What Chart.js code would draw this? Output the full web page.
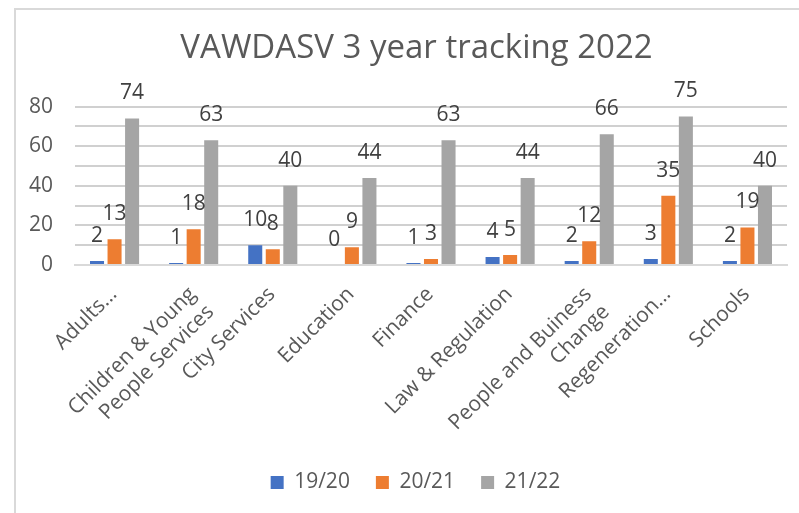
<!DOCTYPE html>
<html>
<head>
<meta charset="utf-8">
<script src="https://cdn.jsdelivr.net/npm/chart.js@4.4.1/dist/chart.umd.min.js"></script>
<style>
html,body{margin:0;padding:0;background:#fff;}
#wrap{width:799px;height:513px;position:relative;}
</style>
</head>
<body>
<div id="wrap"><canvas id="c" width="799" height="513"></canvas></div>
<script>
const categories = [
  "Adults…",
  ["Children & Young", "People Services"],
  "City Services",
  "Education",
  "Finance",
  "Law & Regulation",
  ["People and Buiness", "Change"],
  "Regeneration…",
  "Schools"
];
const seriesNames = ["19/20", "20/21", "21/22"];
const values1920 = [2, 1, 10, 0, 1, 4, 2, 3, 2];
const values2021 = [13, 18, 8, 9, 3, 5, 12, 35, 19];
const values2122 = [74, 63, 40, 44, 63, 44, 66, 75, 40];
const colors = ["#4472C4", "#ED7D31", "#A5A5A5"];
const yMin = 0, yMax = 80, yStep = 10, yLabelEvery = 20;

const FONT = "'Open Sans', 'Liberation Sans', sans-serif";

const borderPlugin = {
  id: 'border',
  beforeDraw(chart) {
    const ctx = chart.ctx;
    ctx.save();
    ctx.strokeStyle = '#d9d9d9';
    ctx.lineWidth = 2;
    ctx.beginPath();
    ctx.moveTo(15, 513);
    ctx.lineTo(15, 9);
    ctx.lineTo(799, 9);
    ctx.stroke();
    ctx.restore();
  }
};

// nudge title and legend horizontally to sit where the reference has them
const shiftPlugin = {
  id: 'shiftBlocks',
  afterLayout(chart) {
    if (chart.titleBlock) { chart.titleBlock.left += 20; }
    if (chart.legend) { chart.legend.left += 18; }
  }
};

const labelPlugin = {
  id: 'valueLabels',
  afterDatasetsDraw(chart) {
    const ctx = chart.ctx;
    ctx.save();
    ctx.font = "21px " + FONT;
    ctx.fillStyle = '#404040';
    ctx.textAlign = 'center';
    ctx.textBaseline = 'middle';
    chart.data.datasets.forEach((ds, i) => {
      const meta = chart.getDatasetMeta(i);
      meta.data.forEach((bar, j) => {
        ctx.fillText(String(ds.data[j]), bar.x, bar.y - 25);
      });
    });
    ctx.restore();
  }
};

new Chart(document.getElementById('c'), {
  type: 'bar',
  data: {
    labels: categories,
    datasets: [
      { label: seriesNames[0], data: values1920, backgroundColor: colors[0] },
      { label: seriesNames[1], data: values2021, backgroundColor: colors[1] },
      { label: seriesNames[2], data: values2122, backgroundColor: colors[2] }
    ]
  },
  options: {
    responsive: false,
    animation: false,
    devicePixelRatio: 1,
    layout: { padding: { left: 26, right: 12, top: 8, bottom: 10 } },
    datasets: { bar: { categoryPercentage: 0.665, barPercentage: 0.8 } },
    plugins: {
      title: {
        display: true,
        text: "VAWDASV 3 year tracking 2022",
        color: '#595959',
        font: { family: FONT, size: 33, weight: 'normal' },
        padding: { top: 21, bottom: 38 }
      },
      legend: {
        position: 'bottom',
        labels: {
          color: '#595959',
          font: { family: FONT, size: 21 },
          boxWidth: 13, boxHeight: 13,
          padding: 26
        }
      },
      tooltip: { enabled: false }
    },
    scales: {
      x: {
        grid: { display: false, drawTicks: false },
        border: { color: '#d9d9d9', width: 2 },
        ticks: {
          color: '#595959',
          font: { family: FONT, size: 21 },
          maxRotation: 45, minRotation: 45,
          autoSkip: false,
          padding: 17,
          labelOffset: -1
        },
        afterFit(scale) { scale.height = 181; scale.paddingLeft = 0; scale.paddingRight = 0; }
      },
      y: {
        min: yMin, max: yMax,
        grid: { display: true, drawOnChartArea: true, color: '#d0d0d0', lineWidth: 2, drawTicks: false },
        border: { display: false },
        ticks: {
          stepSize: yStep,
          autoSkip: false,
          color: '#595959',
          font: { family: FONT, size: 21 },
          padding: 22,
          callback: (v) => (v % yLabelEvery === 0 ? String(v) : '')
        },
        afterFit(scale) { scale.width = 49; }
      }
    }
  },
  plugins: [borderPlugin, shiftPlugin, labelPlugin]
});
</script>
</body>
</html>
